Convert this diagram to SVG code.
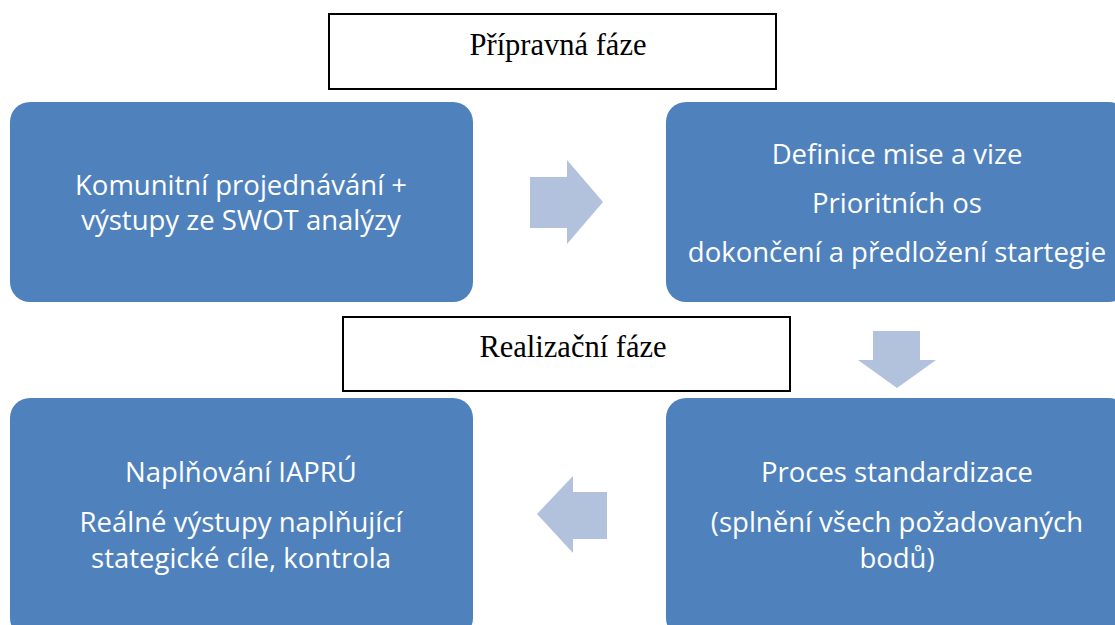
<svg xmlns="http://www.w3.org/2000/svg" width="1115" height="625" viewBox="0 0 1115 625">
<style>
.box{fill:#4F81BD;}
.phase{fill:#FFFFFF;stroke:#000000;stroke-width:2;}
.arrow{fill:#B2C1DC;}
.t{font-family:"Open Sans","Noto Sans","DejaVu Sans",sans-serif;font-size:27.5px;fill:#FFFFFF;text-anchor:middle;}
.s{font-family:"Liberation Serif","Times New Roman",serif;font-size:30.5px;fill:#000000;text-anchor:middle;}
</style>
<rect width="1115" height="625" fill="#FFFFFF"/>
<g id="phase-prep">
<rect class="phase" x="329" y="14" width="447" height="75"/>
<text class="s" x="558" y="55">Přípravná fáze</text>
</g>
<g id="phase-real">
<rect class="phase" x="343" y="317" width="447" height="74"/>
<text class="s" x="573" y="357">Realizační fáze</text>
</g>
<g id="node-komunitni">
<rect class="box" x="10" y="102" width="463" height="200" rx="20"/>
<text class="t" x="241" y="195">Komunitní projednávání +</text>
<text class="t" x="241" y="230">výstupy ze SWOT analýzy</text>
</g>
<g id="node-definice">
<rect class="box" x="666" y="102" width="463" height="200" rx="20"/>
<text class="t" x="897" y="164">Definice mise a vize</text>
<text class="t" x="897" y="213">Prioritních os</text>
<text class="t" x="897" y="262">dokončení a předložení startegie</text>
</g>
<g id="node-proces">
<rect class="box" x="666" y="398" width="463" height="240" rx="20"/>
<text class="t" x="897" y="482">Proces standardizace</text>
<text class="t" x="897" y="532">(splnění všech požadovaných</text>
<text class="t" x="897" y="568">bodů)</text>
</g>
<g id="node-naplnovani">
<rect class="box" x="10" y="398" width="463" height="240" rx="20"/>
<text class="t" x="241" y="482">Naplňování IAPRÚ</text>
<text class="t" x="241" y="532">Reálné výstupy naplňující</text>
<text class="t" x="241" y="568">stategické cíle, kontrola</text>
</g>
<g id="connectors">
<polygon class="arrow" points="530,177 567,177 567,160 603,202 567,244 567,228 530,228"/>
<polygon class="arrow" points="873,331 920,331 920,360 936,360 897,388 858,360 873,360"/>
<polygon class="arrow" points="607,492 573,492 573,476 537,514 573,553 573,539 607,539"/>
</g>
</svg>
